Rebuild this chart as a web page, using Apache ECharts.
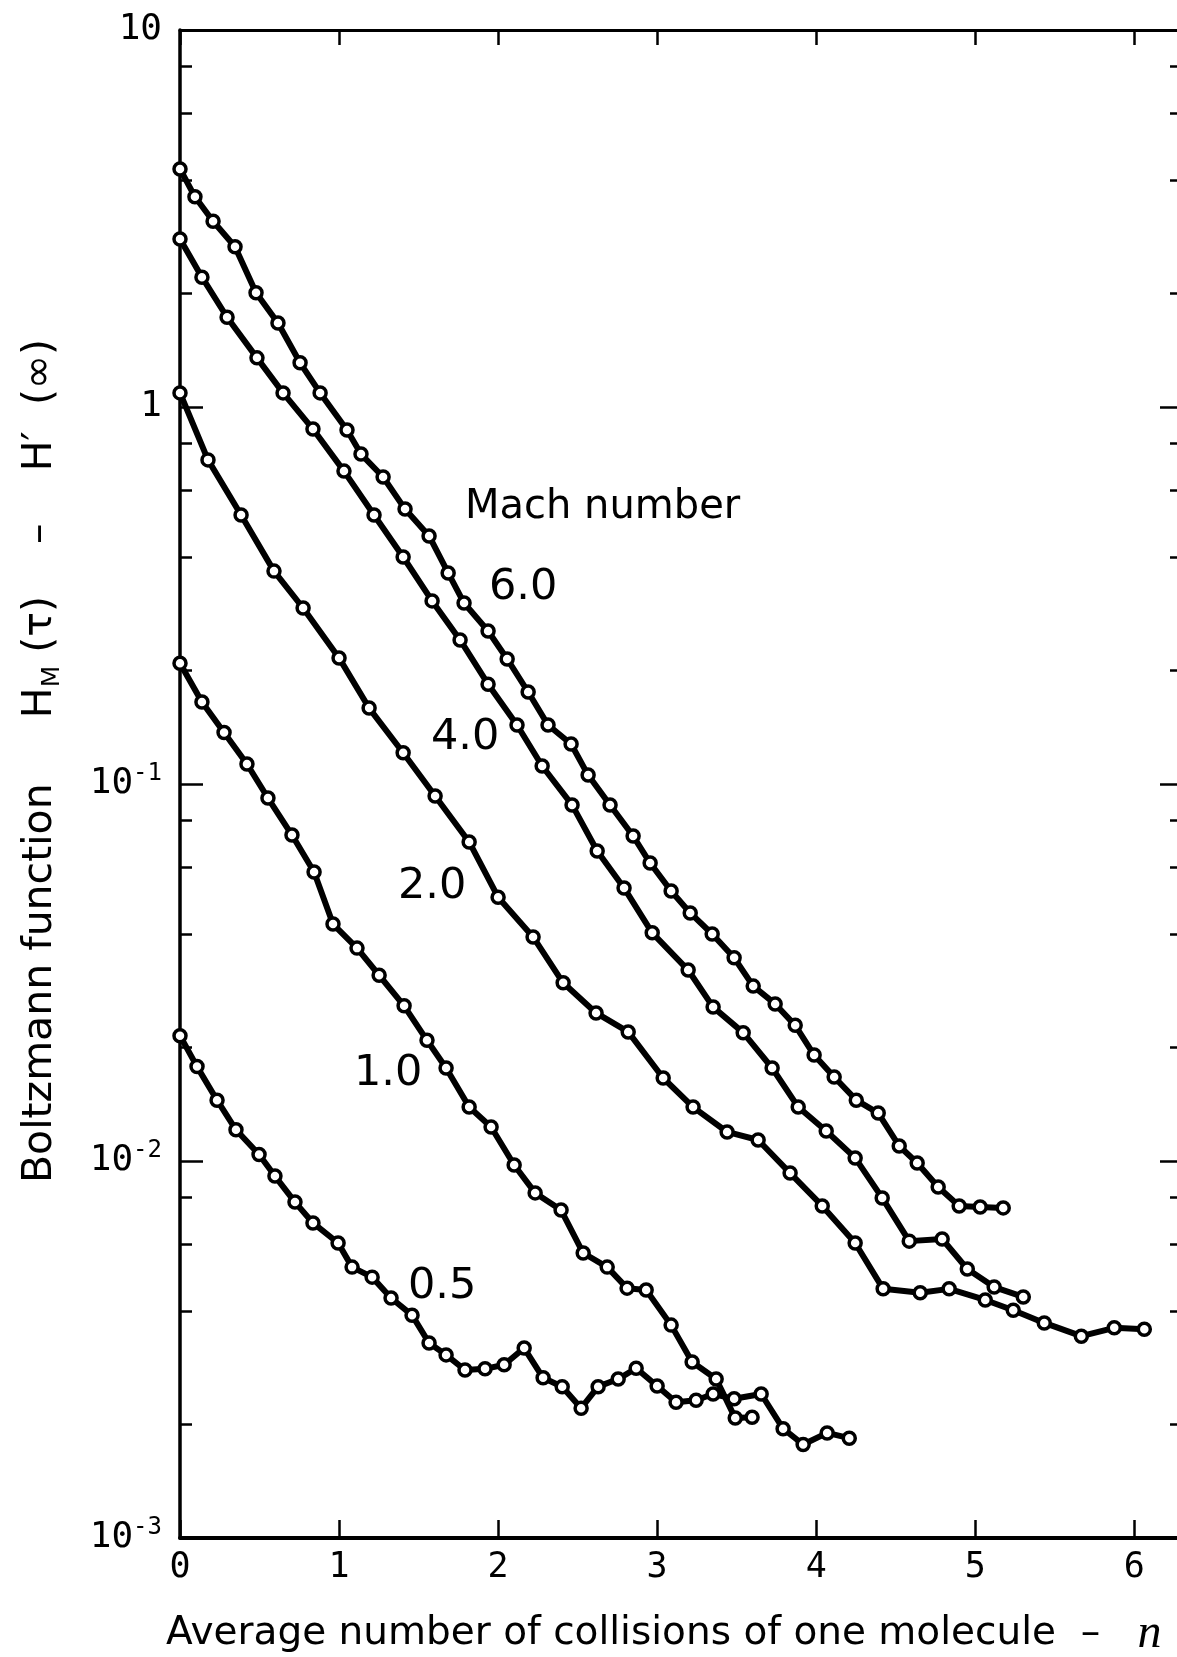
<!DOCTYPE html>
<html><head><meta charset="utf-8">
<script src="https://cdn.jsdelivr.net/npm/echarts@6/dist/echarts.min.js"></script>
<style>html,body{margin:0;padding:0;background:#fff}#c{width:1177px;height:1657px}</style>
</head><body><div id="c"></div>
<script>
// ---- data ----
const xTicks = [0, 1, 2, 3, 4, 5, 6];
const yDecades = [0.001, 0.01, 0.1, 1, 10];
const yMinorTicks = [0.002, 0.004, 0.006, 0.008, 0.02, 0.04, 0.06, 0.08, 0.2, 0.4, 0.6, 0.8, 2, 4, 6, 8];

const mach6X = [0, 0.094, 0.208, 0.346, 0.478, 0.616, 0.755, 0.881, 1.050, 1.138, 1.277, 1.415, 1.566, 1.686, 1.786, 1.937, 2.057, 2.189, 2.314, 2.459, 2.566, 2.704, 2.849, 2.956, 3.088, 3.208, 3.346, 3.484, 3.604, 3.742, 3.868, 3.987, 4.113, 4.252, 4.390, 4.522, 4.635, 4.767, 4.899, 5.031, 5.176];
const mach6Y = [4.28, 3.61, 3.11, 2.66, 2.01, 1.67, 1.31, 1.09, 0.869, 0.750, 0.652, 0.536, 0.455, 0.363, 0.302, 0.2545, 0.2146, 0.1754, 0.1434, 0.1277, 0.1056, 0.0880, 0.0728, 0.0617, 0.0520, 0.0455, 0.0400, 0.0346, 0.0291, 0.0261, 0.0229, 0.0191, 0.0167, 0.0145, 0.0134, 0.01096, 0.00988, 0.00853, 0.00760, 0.00755, 0.00751];

const mach4X = [0, 0.138, 0.296, 0.484, 0.648, 0.836, 1.031, 1.220, 1.403, 1.585, 1.761, 1.937, 2.119, 2.277, 2.465, 2.623, 2.792, 2.969, 3.195, 3.352, 3.541, 3.723, 3.887, 4.063, 4.245, 4.415, 4.585, 4.792, 4.950, 5.119, 5.302];
const mach4Y = [2.79, 2.21, 1.73, 1.35, 1.09, 0.874, 0.676, 0.517, 0.400, 0.306, 0.241, 0.184, 0.1434, 0.1116, 0.0880, 0.0664, 0.0530, 0.0403, 0.0321, 0.0256, 0.0219, 0.01765, 0.01390, 0.01201, 0.01019, 0.00798, 0.00613, 0.00621, 0.00517, 0.00463, 0.00436];

const mach2X = [0, 0.176, 0.384, 0.591, 0.774, 1.0, 1.189, 1.403, 1.604, 1.818, 2.0, 2.220, 2.409, 2.616, 2.818, 3.038, 3.226, 3.440, 3.635, 3.836, 4.038, 4.245, 4.421, 4.654, 4.836, 5.063, 5.239, 5.434, 5.667, 5.874, 6.063];
const mach2Y = [1.09, 0.724, 0.517, 0.367, 0.293, 0.216, 0.159, 0.121, 0.0929, 0.0702, 0.0501, 0.0393, 0.0297, 0.0247, 0.0220, 0.0166, 0.0139, 0.01194, 0.01137, 0.00929, 0.00760, 0.00606, 0.00458, 0.00447, 0.00458, 0.00428, 0.00402, 0.00372, 0.00343, 0.00361, 0.00358];

const mach1X = [0, 0.138, 0.277, 0.421, 0.553, 0.704, 0.843, 0.962, 1.113, 1.252, 1.409, 1.553, 1.673, 1.818, 1.956, 2.101, 2.233, 2.396, 2.535, 2.686, 2.811, 2.931, 3.088, 3.220, 3.371, 3.491, 3.597];
const mach1Y = [0.209, 0.165, 0.137, 0.113, 0.0918, 0.0732, 0.0584, 0.0425, 0.0367, 0.0311, 0.0258, 0.0209, 0.01765, 0.0139, 0.01231, 0.00976, 0.00823, 0.00741, 0.00570, 0.00523, 0.00460, 0.00455, 0.00367, 0.00293, 0.00264, 0.00208, 0.00209];

const mach05X = [0, 0.107, 0.233, 0.352, 0.497, 0.597, 0.723, 0.836, 0.994, 1.082, 1.208, 1.327, 1.459, 1.566, 1.673, 1.792, 1.918, 2.038, 2.164, 2.283, 2.403, 2.522, 2.629, 2.755, 2.868, 3.0, 3.119, 3.245, 3.352, 3.484, 3.654, 3.792, 3.918, 4.069, 4.208];
const mach05Y = [0.0215, 0.0178, 0.0145, 0.0121, 0.0104, 0.00912, 0.00778, 0.00685, 0.00606, 0.00523, 0.00492, 0.00433, 0.00390, 0.00329, 0.00306, 0.00279, 0.00281, 0.00288, 0.00319, 0.00266, 0.00252, 0.00221, 0.00252, 0.00264, 0.00282, 0.00253, 0.00229, 0.00232, 0.00241, 0.00234, 0.00241, 0.00195, 0.00177, 0.00190, 0.00184];

const seriesNames = ['6.0', '4.0', '2.0', '1.0', '0.5'];
const legendTitle = 'Mach number';
const xTitle = 'Average number of collisions of one molecule  \u2013   ';
const xTitleVar = 'n';
const yTitleA = 'Boltzmann function     H';
const yTitleSub = 'M';
const yTitleB = ' (\u03c4)    \u2013    H\u2032  (\u221e)';

// ---- chart ----
const X_MIN = 0, X_MAX = 6.3;
const Y_MIN = 0.001, Y_MAX = 10;
const seriesX = [mach6X, mach4X, mach2X, mach1X, mach05X];
const seriesY = [mach6Y, mach4Y, mach2Y, mach1Y, mach05Y];
const yMinorLog = yMinorTicks.map(v => Math.log10(v));
const yDecadeLog = yDecades.map(v => Math.log10(v));

const numFont = '"DejaVu Sans Mono", monospace';
const txtFont = '"DejaVu Sans", "Liberation Sans", sans-serif';

function decadeLabel(v) {
  const e = Math.round(Math.log10(v));
  if (e === 1) return '{b|10}';
  if (e === 0) return '{b|1}';
  return '{b|10}{s|' + e + '}';
}
const labelRich = {
  b: { fontFamily: numFont, fontSize: 36, color: '#000', lineHeight: 44 },
  s: { fontFamily: numFont, fontSize: 24, color: '#000', verticalAlign: 'top', lineHeight: 44 }
};

const lineSeries = seriesNames.map((name, k) => ({
  name: 'Mach ' + name,
  type: 'line',
  xAxisIndex: 0,
  yAxisIndex: 0,
  data: seriesX[k].map((x, i) => [x, seriesY[k][i]]),
  symbol: 'circle',
  symbolSize: 12,
  showSymbol: true,
  clip: false,
  lineStyle: { color: '#000', width: 6 },
  itemStyle: { color: '#fff', borderColor: '#000', borderWidth: 3.5 },
  z: 3
}));

const option = {
  animation: false,
  backgroundColor: '#fff',
  grid: { left: 180, top: 30, width: 1002, height: 1508, containLabel: false, outerBoundsMode: 'none' },
  xAxis: [
    {
      type: 'value', position: 'bottom', min: X_MIN, max: X_MAX, interval: 1,
      axisLine: { show: true, onZero: false, lineStyle: { color: '#000', width: 4 } },
      axisTick: { show: true, inside: true, length: 18, lineStyle: { color: '#000', width: 2.5 } },
      axisLabel: {
        show: true, margin: 12, showMaxLabel: false, color: '#000',
        fontFamily: numFont, fontSize: 35,
        formatter: v => (xTicks.indexOf(Math.round(v * 1000) / 1000) >= 0 ? String(Math.round(v)) : '')
      },
      splitLine: { show: false }
    },
    {
      type: 'value', position: 'top', min: X_MIN, max: X_MAX, interval: 1,
      axisLine: { show: true, onZero: false, lineStyle: { color: '#000', width: 3 } },
      axisTick: { show: true, inside: true, length: 15, lineStyle: { color: '#000', width: 2.5 } },
      axisLabel: { show: false },
      splitLine: { show: false }
    }
  ],
  yAxis: [
    {
      type: 'log', logBase: 10, position: 'left', min: Y_MIN, max: Y_MAX,
      axisLine: { show: true, onZero: false, lineStyle: { color: '#000', width: 3.5 } },
      axisTick: { show: true, inside: true, length: 23, lineStyle: { color: '#000', width: 2.5 } },
      axisLabel: { show: true, margin: 18, formatter: decadeLabel, rich: labelRich },
      splitLine: { show: false }
    },
    {
      type: 'value', position: 'left', min: -3, max: 1,
      axisLine: { show: false, onZero: false },
      axisTick: { show: true, inside: true, length: 12, customValues: yMinorLog, lineStyle: { color: '#000', width: 2.5 } },
      axisLabel: { show: false },
      splitLine: { show: false }
    },
    {
      type: 'value', position: 'right', min: -3, max: 1,
      axisLine: { show: true, onZero: false, lineStyle: { color: '#000', width: 3 } },
      axisTick: { show: true, inside: true, length: 22, customValues: yDecadeLog, lineStyle: { color: '#000', width: 2.5 } },
      axisLabel: { show: false },
      splitLine: { show: false }
    },
    {
      type: 'value', position: 'right', min: -3, max: 1,
      axisLine: { show: false, onZero: false },
      axisTick: { show: true, inside: true, length: 12, customValues: yMinorLog, lineStyle: { color: '#000', width: 2.5 } },
      axisLabel: { show: false },
      splitLine: { show: false }
    }
  ],
  series: lineSeries,
  graphic: [
    { type: 'text', x: 465, y: 508, style: { text: legendTitle, fontFamily: txtFont, fontSize: 40, fill: '#000', align: 'left', verticalAlign: 'middle' } },
    { type: 'text', x: 489, y: 588, style: { text: seriesNames[0], fontFamily: txtFont, fontSize: 43, fill: '#000', align: 'left', verticalAlign: 'middle' } },
    { type: 'text', x: 431, y: 738, style: { text: seriesNames[1], fontFamily: txtFont, fontSize: 43, fill: '#000', align: 'left', verticalAlign: 'middle' } },
    { type: 'text', x: 398, y: 887, style: { text: seriesNames[2], fontFamily: txtFont, fontSize: 43, fill: '#000', align: 'left', verticalAlign: 'middle' } },
    { type: 'text', x: 354, y: 1074, style: { text: seriesNames[3], fontFamily: txtFont, fontSize: 43, fill: '#000', align: 'left', verticalAlign: 'middle' } },
    { type: 'text', x: 408, y: 1287, style: { text: seriesNames[4], fontFamily: txtFont, fontSize: 43, fill: '#000', align: 'left', verticalAlign: 'middle' } },
    {
      type: 'text', x: 166, y: 1634,
      style: {
        text: '{t|' + xTitle + '}{n|' + xTitleVar + '}',
        align: 'left', verticalAlign: 'middle',
        rich: {
          t: { fontFamily: txtFont, fontSize: 39, fill: '#000', color: '#000' },
          n: { fontFamily: '"Liberation Serif", serif', fontStyle: 'italic', fontSize: 48, fill: '#000', color: '#000' }
        }
      }
    },
    {
      type: 'text', x: 40, y: 761, rotation: Math.PI / 2,
      style: {
        text: '{t|' + yTitleA + '}{m|' + yTitleSub + '}{t|' + yTitleB + '}',
        align: 'center', verticalAlign: 'middle',
        rich: {
          t: { fontFamily: txtFont, fontSize: 41, fill: '#000', color: '#000', lineHeight: 50 },
          m: { fontFamily: txtFont, fontSize: 25, fill: '#000', color: '#000', verticalAlign: 'bottom', lineHeight: 50 }
        }
      }
    }
  ]
};

const chart = echarts.init(document.getElementById('c'), null, { renderer: 'canvas', width: 1177, height: 1657 });
chart.setOption(option);
</script>
</body></html>
